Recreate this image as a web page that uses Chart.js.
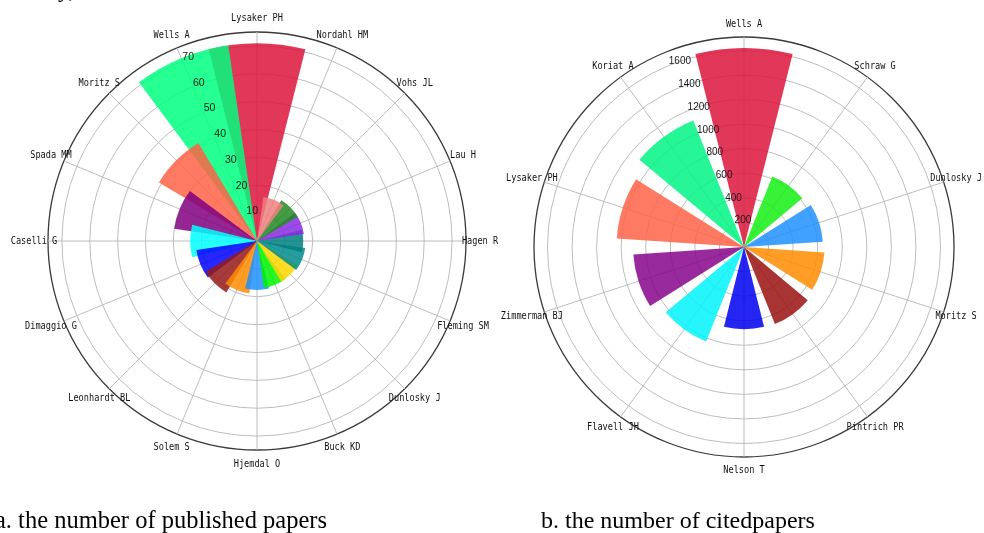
<!DOCTYPE html>
<html><head><meta charset="utf-8">
<script src="https://cdn.jsdelivr.net/npm/chart.js@4.4.1/dist/chart.umd.min.js"></script>
<style>
html,body{margin:0;padding:0;background:#fff;}
#wrap{position:relative;width:984px;height:533px;overflow:hidden;background:#fff;}
canvas{position:absolute;left:0;top:0;}
</style></head><body>
<div id="wrap"><canvas id="cA" width="984" height="533"></canvas><canvas id="cB" width="984" height="533"></canvas></div>
<script>
// ---- data: a. published papers (labels clockwise from north) ----
const papersLabels = ['Lysaker PH','Nordahl HM','Vohs JL','Lau H','Hagen R','Fleming SM','Dunlosky J','Buck KD','Hjemdal O','Solem S','Leonhardt BL','Dimaggio G','Caselli G','Spada MM','Moritz S','Wells A'];
const papersValues = [71, 16, 17, 17, 16.6, 17.5, 17, 17, 17.6, 19, 21.5, 22, 24, 30, 41, 71];
const papersTicks = [10, 20, 30, 40, 50, 60, 70];
const papersMax = 75;

// ---- data: b. cited papers (labels clockwise from north) ----
const citedLabels = ['Wells A','Schraw G','Dunlosky J','Moritz S','Pintrich PR','Nelson T','Flavell JH','Zimmerman BJ','Lysaker PH','Koriat A'];
const citedValues = [1620, 619, 643, 656, 676, 669, 830, 903, 1038, 1109];
const citedTicks = [200, 400, 600, 800, 1000, 1200, 1400, 1600];
const citedMax = 1710;

const captionA = 'a. the number of published papers';
const captionB = 'b. the number of citedpapers';

// ---- styles ----
const A = 0.85;
const papersColors = [
  [220,20,60],[240,128,128],[34,139,34],[138,43,226],[0,128,128],[0,139,139],
  [255,215,0],[0,245,0],[30,144,255],[255,140,0],[150,25,25],[0,0,255],
  [0,255,255],[128,0,128],[255,99,71],[0,255,127]
].map(c => `rgba(${c[0]},${c[1]},${c[2]},${A})`);
const citedColors = [
  [220,20,60],[20,240,20],[30,144,255],[255,140,0],[153,16,16],[0,0,240],
  [0,245,250],[135,5,140],[255,99,71],[0,245,130]
].map(c => `rgba(${c[0]},${c[1]},${c[2]},${A})`);
// drawing sequence for chart a: counter-clockwise from north, later bars overlap earlier ones
const papersDrawSeq = papersLabels.map((_, i) => i === 0 ? 0 : papersLabels.length - i);
const BAR_W = 28.3;

function barDatasets(values, colors, widthDeg, drawSeq) {
  const n = values.length, step = 360 / n;
  return values.map((v, i) => {
    const off = (((step * i - widthDeg / 2) % 360) + 360) % 360;
    return {
      data: [0, v],
      angle: [off, widthDeg],
      backgroundColor: ['rgba(0,0,0,0)', colors[i]],
      borderWidth: 0,
      order: drawSeq ? n - drawSeq[i] : 0
    };
  });
}

const textPlugin = {
  id: 'texts',
  afterDraw(chart, args, o) {
    const s = chart.scales.r, ctx = chart.ctx;
    ctx.save();
    ctx.fillStyle = '#111';
    ctx.font = o.labelFont;
    ctx.textAlign = 'center';
    ctx.textBaseline = 'middle';
    chart.data.labels.forEach((lab, i) => {
      const p = s.getPointPosition(i, s.drawingArea + o.labelGap);
      ctx.save();
      ctx.translate(p.x, p.y);
      ctx.scale(o.squeeze, 1);
      ctx.fillText(lab, 0, 0);
      ctx.restore();
    });
    ctx.font = o.tickFont;
    ctx.fillStyle = '#1a1a1a';
    ctx.textAlign = 'left';
    ctx.textBaseline = 'alphabetic';
    const a = (o.tickAngle - 90) * Math.PI / 180;
    o.tickValues.forEach(v => {
      const d = s.getDistanceFromCenterForValue(v);
      ctx.fillText(String(v), s.xCenter + Math.cos(a) * d, s.yCenter + Math.sin(a) * d - 1);
    });
    (o.captions || []).forEach(c => {
      ctx.font = c.font; ctx.fillStyle = '#000'; ctx.textAlign = 'left';
      ctx.fillText(c.text, c.x, c.y);
    });
    ctx.restore();
  }
};

function makeChart(id, labels, values, colors, drawSeq, ticks, max, padding, textOpts) {
  return new Chart(document.getElementById(id), {
    type: 'polarArea',
    data: { labels: labels, datasets: barDatasets(values, colors, BAR_W, drawSeq) },
    options: {
      responsive: false, animation: false, events: [],
      layout: { padding: padding },
      plugins: {
        legend: { display: false }, tooltip: { enabled: false },
        texts: Object.assign({ tickValues: ticks }, textOpts)
      },
      scales: {
        r: {
          min: 0, max: max, startAngle: 0,
          afterBuildTicks: (sc) => { sc.ticks = [0].concat(ticks, [max]).map(v => ({ value: v })); },
          ticks: { display: false },
          grid: { circular: true,
            lineWidth: (c) => (c.tick && c.tick.value === max) ? 1.3 : 1,
            color: (c) => (c.tick && c.tick.value === max) ? '#3a3a3a' : '#bdbdbd' },
          angleLines: { display: true, color: '#bdbdbd', lineWidth: 1 },
          pointLabels: { display: false }
        }
      }
    },
    plugins: [textPlugin]
  });
}

const labelFont = '10px "DejaVu Sans Mono", "Liberation Mono", monospace';
const serif = '"Liberation Serif", "Times New Roman", serif';
makeChart('cA', papersLabels, papersValues, papersColors, papersDrawSeq, papersTicks, papersMax,
  { left: 48, top: 32, right: 517, bottom: 82 },
  { labelFont, labelGap: 14, squeeze: 0.86, tickFont: '10.5px "Liberation Sans", Arial, sans-serif', tickAngle: -22.5,
    captions: [
      { text: captionA, x: -5, y: 528, font: '24.5px ' + serif },
      { text: captionB, x: 541, y: 528, font: '24px ' + serif },
      { text: 'y, 000', x: 58, y: -3, font: '24px ' + serif }
    ] });
makeChart('cB', citedLabels, citedValues, citedColors, null, citedTicks, citedMax,
  { left: 534, top: 37, right: 30, bottom: 76 },
  { labelFont, labelGap: 13, squeeze: 0.86, tickFont: '10px "Liberation Sans", Arial, sans-serif', tickAngle: -22.5 });
</script>
</body></html>
